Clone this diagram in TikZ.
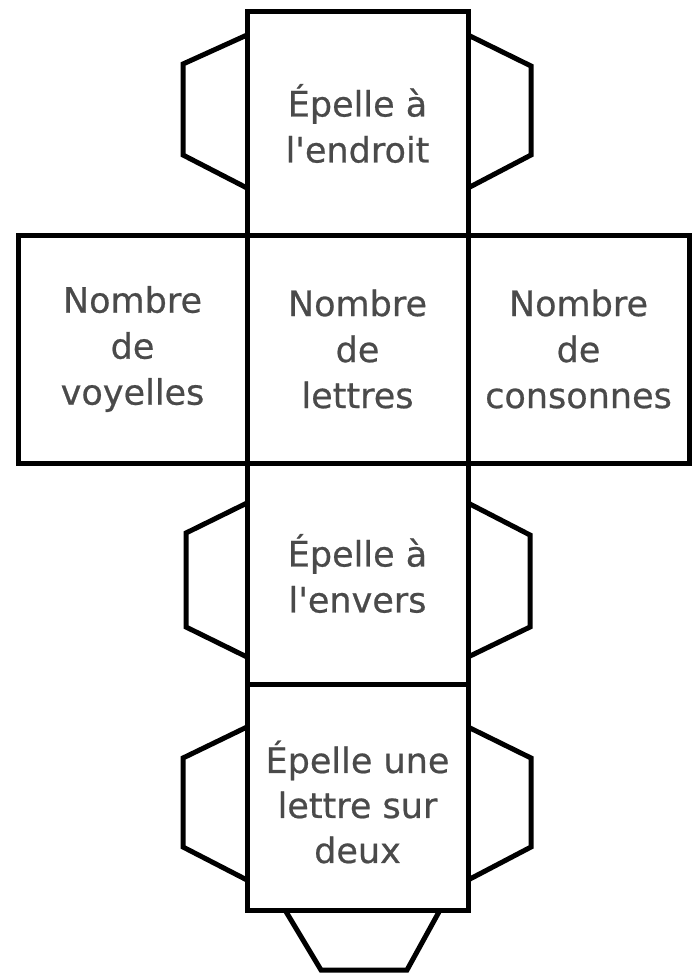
\documentclass[tikz,border=0pt]{standalone}
\usepackage{fontspec}
\newfontfamily\dvs[FakeBold=0.6]{DejaVu Sans}
\definecolor{txt}{HTML}{4A4A4A}
\begin{document}
\begin{tikzpicture}[x=1pt,y=-1pt,
  face/.style={draw=black,line width=5pt,inner sep=0pt,outer sep=0pt},
  facetext/.style={align=center,text=txt,inner sep=0pt,font=\dvs\fontsize{35}{46}\selectfont},
  flap/.style={draw=black,line width=5pt,line join=miter}]
\useasboundingbox (0,0) rectangle (694,974);
% faces
\node[face,minimum width=221pt,minimum height=223pt] (top) at (357.5,123.5) {};
\node[face,minimum width=229pt,minimum height=228pt] (left) at (132.5,349) {};
\node[face,minimum width=221pt,minimum height=228pt] (mid) at (357.5,349) {};
\node[face,minimum width=221pt,minimum height=228pt] (right) at (578.5,349) {};
\node[face,minimum width=221pt,minimum height=221pt] (third) at (357.5,573.5) {};
\node[face,minimum width=221pt,minimum height=226pt] (fourth) at (357.5,797) {};
% texts
\node[facetext] (ttop) at (top.center) {Épelle à\\l'endroit};
\node[facetext] (tleft) at (left.center) {Nombre\\de\\voyelles};
\node[facetext] (tmid) at (mid.center) {Nombre\\de\\lettres};
\node[facetext] (tright) at (right.center) {Nombre\\de\\consonnes};
\node[facetext] (tthird) at (third.center) {Épelle à\\l'envers};
\node[facetext,font=\dvs\fontsize{35}{45}\selectfont] (tfourth) at ([yshift=-5pt]fourth.center) {Épelle une\\lettre sur\\deux};
% flaps of the top face
\draw[flap] (247,35) -- (183,64) -- (183,155) -- (247,188);
\draw[flap] (468,35) -- (531,66) -- (531,155) -- (468,188);
% flaps of the third face
\draw[flap] (247,503) -- (186,533) -- (186,627) -- (247,657);
\draw[flap] (468,503) -- (530,535) -- (530,627) -- (468,657);
% flaps of the fourth face
\draw[flap] (247,727) -- (183,758) -- (183,847) -- (247,880);
\draw[flap] (468,727) -- (531,758) -- (531,847) -- (468,880);
% bottom flap
\draw[flap] (285,910) -- (321,970) -- (407,970) -- (440,910);
\end{tikzpicture}
\end{document}
